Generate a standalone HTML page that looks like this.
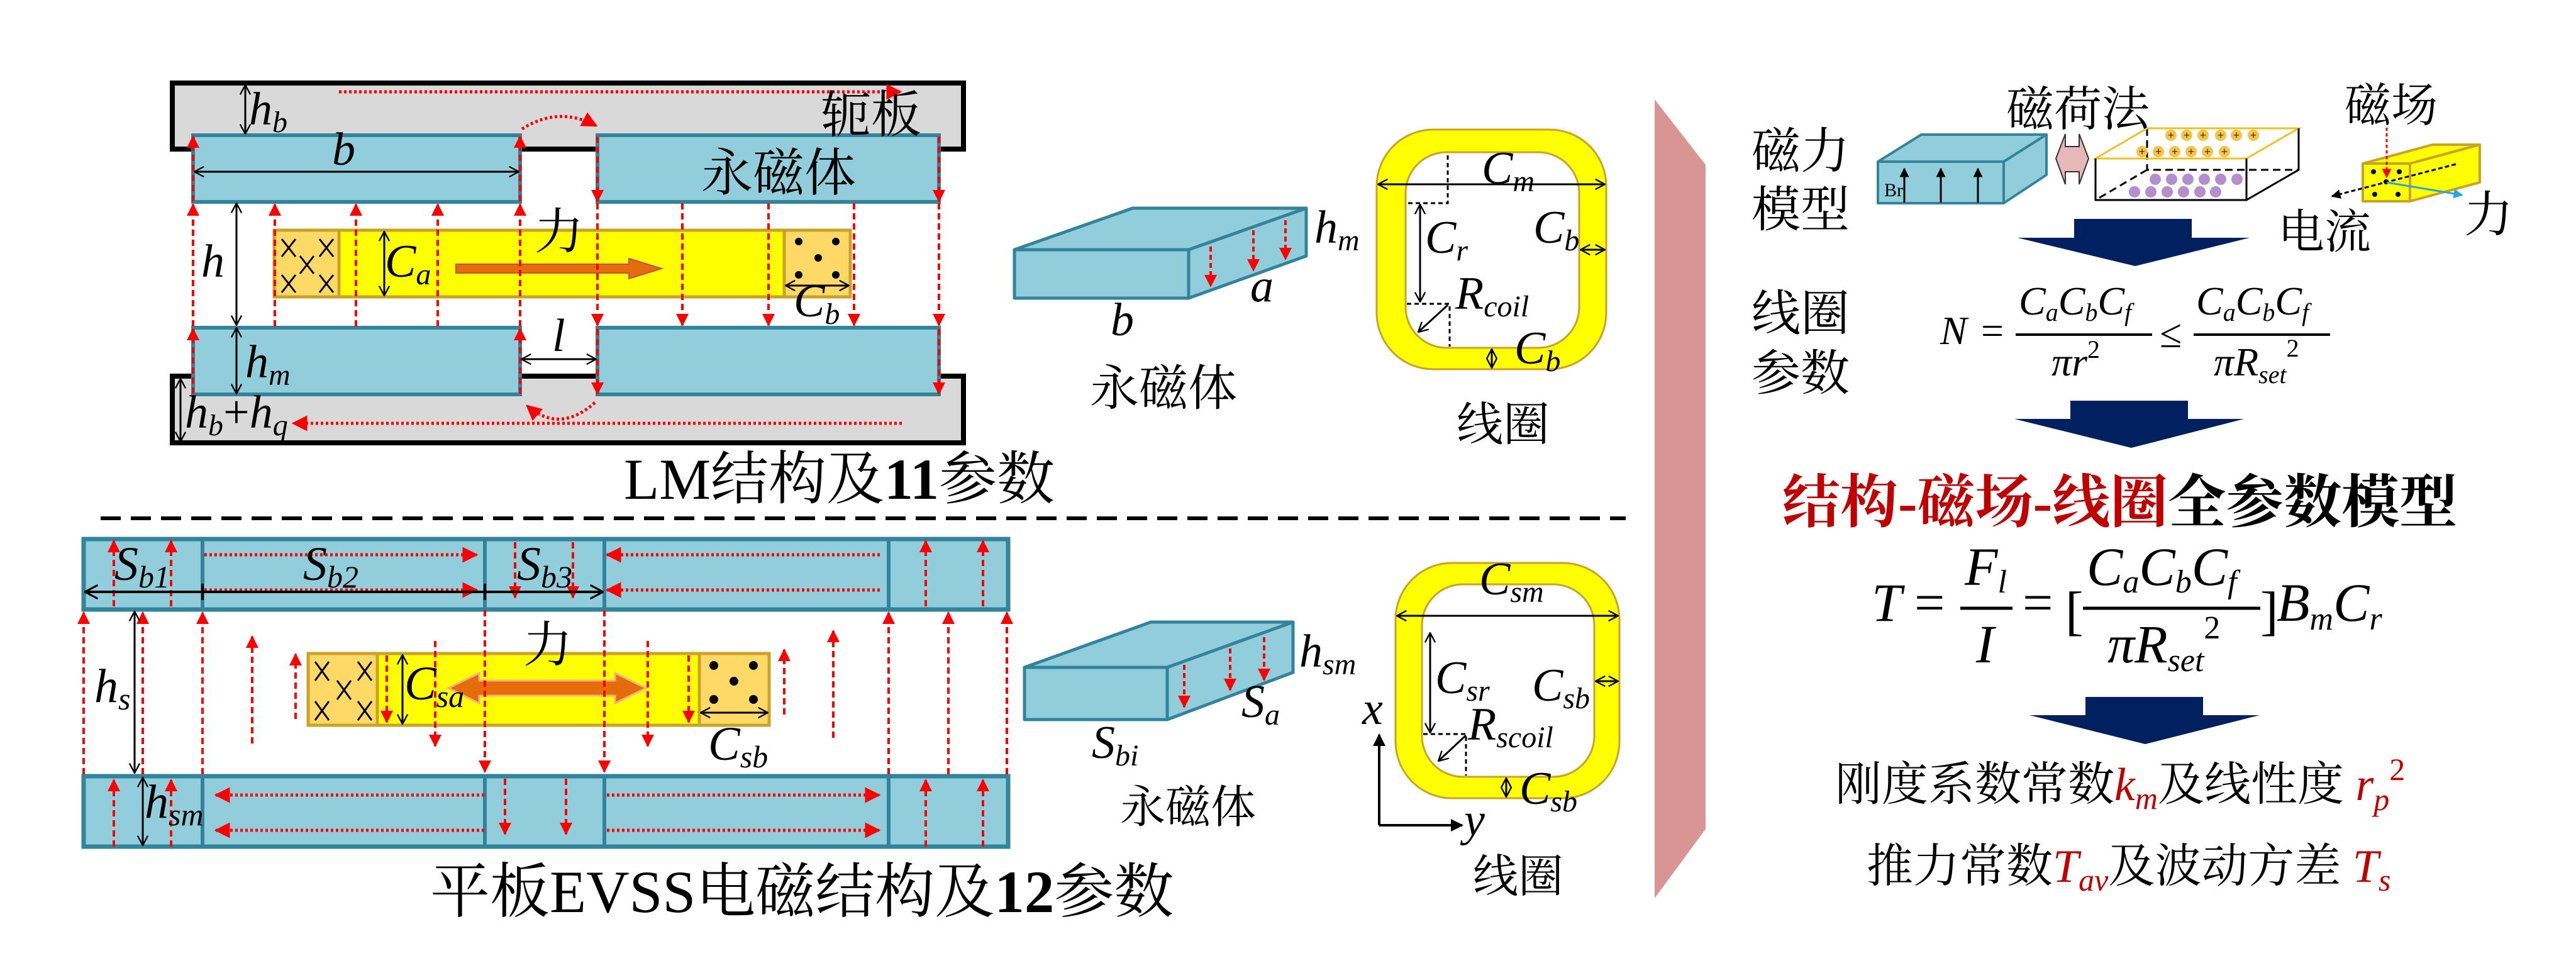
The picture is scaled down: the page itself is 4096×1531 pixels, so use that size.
<!DOCTYPE html>
<html><head><meta charset="utf-8"><style>
html,body{margin:0;padding:0;background:#fff;}
svg{display:block;}
text{font-family:"Liberation Serif","Noto Serif CJK SC",serif;}
.m{font-style:italic;}
</style></head><body>
<svg width="4096" height="1531" viewBox="0 0 4096 1531" xmlns="http://www.w3.org/2000/svg">
<defs>
<marker id="ra" viewBox="0 0 10 10" refX="9" refY="5" markerWidth="5" markerHeight="5" orient="auto-start-reverse"><path d="M0,0L10,5L0,10z" fill="#ff0000"/></marker>
<marker id="ba" viewBox="0 0 10 10" refX="9.5" refY="5" markerWidth="6" markerHeight="6" orient="auto-start-reverse"><path d="M1,0.5L9.5,5L1,9.5" fill="none" stroke="#000" stroke-width="1.3"/></marker>
<marker id="bs" viewBox="0 0 10 10" refX="9" refY="5" markerWidth="5" markerHeight="5" orient="auto-start-reverse"><path d="M0,0L10,5L0,10z" fill="#000"/></marker>
<marker id="cy" viewBox="0 0 10 10" refX="9" refY="5" markerWidth="5" markerHeight="5" orient="auto"><path d="M0,0L10,5L0,10z" fill="#1ea7e1"/></marker>
</defs>

<g stroke-linejoin="miter">
<rect x="274" y="132" width="1258" height="105" fill="#d9d9d9" stroke="#000" stroke-width="8"/>
<rect x="274" y="598" width="1258" height="106" fill="#d9d9d9" stroke="#000" stroke-width="8"/>
<g fill="#92cddc" stroke="#31849b" stroke-width="6">
<rect x="307" y="215" width="520" height="106"/>
<rect x="950" y="215" width="543" height="106"/>
<rect x="307" y="521" width="520" height="106"/>
<rect x="950" y="521" width="543" height="106"/>
</g>
<rect x="436" y="366" width="916" height="106" fill="#ffff00" stroke="#c9a227" stroke-width="5"/>
<rect x="436" y="366" width="103" height="106" fill="#ffd966" stroke="#c9a227" stroke-width="5"/>
<rect x="1247" y="366" width="105" height="106" fill="#ffd966" stroke="#c9a227" stroke-width="5"/>
<g stroke="#000" stroke-width="3"><path d="M448 380l22 28M470 380l-22 28M508 380l22 28M530 380l-22 28M477 407l22 28M499 407l-22 28M448 437l22 28M470 437l-22 28M508 437l22 28M530 437l-22 28"/></g>
<g fill="#000"><circle cx="1270" cy="384" r="6"/><circle cx="1329" cy="384" r="6"/><circle cx="1301" cy="410" r="6"/><circle cx="1270" cy="437" r="6"/><circle cx="1329" cy="437" r="6"/></g>
<polygon points="725,420 1000,420 1000,411 1052,427 1000,443 1000,434 725,434" fill="#e46c0a" stroke="#c0504d" stroke-width="2"/>
</g>
<g stroke="#ff0000" stroke-width="4" stroke-dasharray="10 6" fill="none" marker-end="url(#ra)">
<path d="M307 626V523"/><path d="M307 519V325"/><path d="M307 320V217"/>
<path d="M827 626V523"/><path d="M827 519V325"/><path d="M827 320V217"/>
<path d="M437 519V325"/><path d="M566 519V325"/><path d="M696 519V325"/>
<path d="M950 217V320"/><path d="M950 323V517"/><path d="M950 523V626"/>
<path d="M1493 217V320"/><path d="M1493 323V517"/><path d="M1493 523V626"/>
<path d="M1085 323V517"/><path d="M1222 323V517"/><path d="M1358 323V517"/>
</g>
<g stroke="#ff0000" stroke-width="5" stroke-dasharray="4 4" marker-end="url(#ra)">
<path fill="none" d="M539 146H1432"/><path fill="none" d="M1434 673H466"/>
<path fill="none" d="M830 205 Q888 168 948 200"/><path fill="none" d="M946 640 Q890 690 838 645"/>
</g>
<g stroke="#000" stroke-width="3" fill="none" marker-start="url(#ba)" marker-end="url(#ba)">
<path d="M390 135V213"/><path d="M309 273H825"/><path d="M376 323V517"/><path d="M376 521V626"/>
<path d="M611 368V470"/><path d="M1249 454H1350"/><path d="M829 571H948"/><path d="M287 602V702"/>
</g>
<g font-size="74" class="m">
<text x="396" y="198">h<tspan font-size="48" dy="12">b</tspan></text>
<text x="528" y="262">b</text>
<text x="320" y="440">h</text>
<text x="612" y="440">C<tspan font-size="48" dy="12">a</tspan></text>
<text x="1262" y="503">C<tspan font-size="48" dy="12">b</tspan></text>
<text x="878" y="558">l</text>
<text x="390" y="600">h<tspan font-size="48" dy="12">m</tspan></text>
<text x="294" y="680">h<tspan font-size="48" dy="12">b</tspan><tspan dy="-12" font-style="normal">+</tspan>h<tspan font-size="48" dy="12">q</tspan></text>
</g>
<text x="1305" y="210" font-size="80">轭板</text>
<text x="1115" y="303" font-size="82">永磁体</text>
<text x="850" y="395" font-size="78">力</text>
<text x="992" y="793" font-size="92">LM结构及<tspan font-weight="bold">11</tspan>参数</text>

<line x1="160" y1="824" x2="2585" y2="824" stroke="#000" stroke-width="6" stroke-dasharray="32 16"/>

<g fill="#92cddc" stroke="#31849b" stroke-width="7">
<rect x="133" y="857" width="1470" height="112"/>
<rect x="133" y="1234" width="1470" height="112"/>
</g>
<g stroke="#31849b" stroke-width="6">
<path d="M322 857V969M771 857V969M961 857V969M1413 857V969"/>
<path d="M322 1234V1346M771 1234V1346M961 1234V1346M1413 1234V1346"/>
</g>
<rect x="490" y="1039" width="733" height="114" fill="#ffff00" stroke="#c9a227" stroke-width="5"/>
<rect x="490" y="1039" width="110" height="114" fill="#ffd966" stroke="#c9a227" stroke-width="5"/>
<rect x="1112" y="1039" width="111" height="114" fill="#ffd966" stroke="#c9a227" stroke-width="5"/>
<g stroke="#000" stroke-width="3"><path d="M501 1052l22 30M523 1052l-22 30M569 1052l22 30M591 1052l-22 30M536 1082l22 30M558 1082l-22 30M501 1115l22 30M523 1115l-22 30M569 1115l22 30M591 1115l-22 30"/></g>
<g fill="#000"><circle cx="1135" cy="1058" r="7"/><circle cx="1198" cy="1058" r="7"/><circle cx="1167" cy="1083" r="7"/><circle cx="1135" cy="1112" r="7"/><circle cx="1198" cy="1112" r="7"/></g>
<polygon points="713,1094 762,1070 762,1082 978,1082 978,1070 1027,1094 978,1118 978,1106 762,1106 762,1118" fill="#e46c0a" stroke="#f4b183" stroke-width="3"/>
<g stroke="#ff0000" stroke-width="4" stroke-dasharray="10 6" fill="none" marker-end="url(#ra)">
<path d="M133 1231V974"/><path d="M227 1231V974"/><path d="M322 1231V974"/>
<path d="M1413 1231V974"/><path d="M1508 1231V974"/><path d="M1601 1231V974"/>
<path d="M771 970V1227"/><path d="M961 970V1227"/>
<path d="M181 964V860"/><path d="M272 964V860"/><path d="M1472 964V860"/><path d="M1563 964V860"/>
<path d="M819 862V950"/><path d="M911 862V950"/>
<path d="M181 1346V1240"/><path d="M272 1346V1240"/><path d="M1472 1346V1240"/><path d="M1563 1346V1240"/>
<path d="M803 1238V1326"/><path d="M900 1238V1326"/>
<path d="M401 1182V1012"/><path d="M470 1143V1040"/><path d="M1247 1136V1033"/><path d="M1325 1173V1003"/>
<path d="M692 1019V1186"/><path d="M1030 1019V1186"/><path d="M615 1042V1148"/><path d="M1095 1042V1148"/>
</g>
<g stroke="#ff0000" stroke-width="5" stroke-dasharray="4 4" fill="none" marker-end="url(#ra)">
<path d="M325 882H758"/><path d="M325 938H758"/>
<path d="M1399 882H965"/><path d="M1399 938H965"/>
<path d="M770 1264H343"/><path d="M770 1320H343"/>
<path d="M965 1264H1398"/><path d="M965 1320H1398"/>
</g>
<g stroke="#000" stroke-width="4" fill="none">
<path d="M135 941H959" marker-start="url(#ba)" marker-end="url(#ba)"/>
<path d="M322 928V954M771 928V954"/>
</g>
<g stroke="#000" stroke-width="3" fill="none" marker-start="url(#ba)" marker-end="url(#ba)">
<path d="M214 972V1229"/><path d="M227 1236V1344"/><path d="M640 1041V1151"/><path d="M1114 1133H1221"/>
</g>
<g font-size="76" class="m">
<text x="182" y="922">S<tspan font-size="50" dy="12">b1</tspan></text>
<text x="482" y="922">S<tspan font-size="50" dy="12">b2</tspan></text>
<text x="822" y="922">S<tspan font-size="50" dy="12">b3</tspan></text>
<text x="150" y="1116">h<tspan font-size="50" dy="12">s</tspan></text>
<text x="230" y="1300">h<tspan font-size="50" dy="12">sm</tspan></text>
<text x="643" y="1112">C<tspan font-size="50" dy="12">sa</tspan></text>
<text x="1126" y="1208">C<tspan font-size="50" dy="12">sb</tspan></text>
</g>
<text x="832" y="1052" font-size="78">力</text>
<text x="684" y="1450" font-size="95">平板EVSS电磁结构及<tspan font-weight="bold">12</tspan>参数</text>

<g fill="#92cddc" stroke="#31849b" stroke-width="5" stroke-linejoin="round">
<polygon points="1613,397 1801,331 2077,331 1890,397"/>
<polygon points="1890,397 2077,331 2077,407 1890,474"/>
<rect x="1613" y="397" width="277" height="77"/>
<polygon points="1629,1061 1830,989 2056,989 1856,1061"/>
<polygon points="1856,1061 2056,989 2056,1069 1856,1144"/>
<rect x="1629" y="1061" width="227" height="83"/>
</g>
<g stroke="#ff0000" stroke-width="4" stroke-dasharray="8 5" fill="none" marker-end="url(#ra)">
<path d="M1925 392V455"/><path d="M1993 366V430"/><path d="M2044 350V412"/>
<path d="M1883 1057V1124"/><path d="M1956 1031V1097"/><path d="M2010 1013V1081"/>
</g>
<g font-size="74" class="m">
<text x="2090" y="386">h<tspan font-size="48" dy="12">m</tspan></text>
<text x="1988" y="479">a</text>
<text x="1766" y="533">b</text>
<text x="2066" y="1060">h<tspan font-size="48" dy="12">sm</tspan></text>
<text x="1974" y="1140">S<tspan font-size="48" dy="12">a</tspan></text>
<text x="1736" y="1205">S<tspan font-size="48" dy="12">bi</tspan></text>
</g>
<text x="1733" y="644" font-size="78">永磁体</text>
<text x="1781" y="1308" font-size="72">永磁体</text>

<path fill-rule="evenodd" fill="#ffff00" stroke="#c9a227" stroke-width="3" d="M2279,206H2464A90,90 0 0 1 2554,296V497A90,90 0 0 1 2464,587H2279A90,90 0 0 1 2189,497V296A90,90 0 0 1 2279,206Z M2300,242H2446A65,65 0 0 1 2511,307V488A65,65 0 0 1 2446,553H2300A65,65 0 0 1 2235,488V307A65,65 0 0 1 2300,242Z"/>
<path fill-rule="evenodd" fill="#ffff00" stroke="#c9a227" stroke-width="3" d="M2309,895H2485A90,90 0 0 1 2575,985V1179A90,90 0 0 1 2485,1269H2309A90,90 0 0 1 2219,1179V985A90,90 0 0 1 2309,895Z M2326,929H2470A65,65 0 0 1 2535,994V1170A65,65 0 0 1 2470,1235H2326A65,65 0 0 1 2261,1170V994A65,65 0 0 1 2326,929Z"/>
<g stroke="#000" stroke-width="3" stroke-dasharray="7 5" fill="none">
<path d="M2302 247V323H2237"/><path d="M2237 483H2305V551"/>
<path d="M2263 1167H2331V1233"/>
</g>
<g stroke="#000" stroke-width="3" fill="none" marker-start="url(#ba)" marker-end="url(#ba)">
<path d="M2191 293H2552"/><path d="M2258 325V480"/><path d="M2513 397H2552"/><path d="M2372 555V585"/>
<path d="M2221 979H2573"/><path d="M2274 1006V1165"/><path d="M2537 1083H2573"/><path d="M2395 1237V1267"/>
</g>
<g stroke="#000" stroke-width="3" fill="none" marker-end="url(#ba)">
<path d="M2302 485L2255 528"/><path d="M2331 1169L2287 1210"/>
</g>
<g stroke="#000" stroke-width="4" fill="none" marker-end="url(#bs)">
<path d="M2193 1312V1168"/><path d="M2193 1312H2325"/>
</g>
<g font-size="74" class="m">
<text x="2356" y="292">C<tspan font-size="48" dy="12">m</tspan></text>
<text x="2266" y="402">C<tspan font-size="48" dy="12">r</tspan></text>
<text x="2438" y="386">C<tspan font-size="48" dy="12">b</tspan></text>
<text x="2314" y="491">R<tspan font-size="48" dy="12">coil</tspan></text>
<text x="2408" y="578">C<tspan font-size="48" dy="12">b</tspan></text>
<text x="2352" y="945">C<tspan font-size="48" dy="12">sm</tspan></text>
<text x="2282" y="1102">C<tspan font-size="48" dy="12">sr</tspan></text>
<text x="2436" y="1114">C<tspan font-size="48" dy="12">sb</tspan></text>
<text x="2334" y="1176">R<tspan font-size="48" dy="12">scoil</tspan></text>
<text x="2416" y="1278">C<tspan font-size="48" dy="12">sb</tspan></text>
<text x="2166" y="1151">x</text>
<text x="2328" y="1328">y</text>
</g>
<text x="2316" y="700" font-size="74">线圈</text>
<text x="2342" y="1418" font-size="72">线圈</text>

<polygon points="2631,158 2712,262 2712,1318 2631,1428" fill="#d99594"/>

<text x="2785" y="267" font-size="78">磁力</text>
<text x="2785" y="360" font-size="78">模型</text>
<text x="3190" y="200" font-size="76">磁荷法</text>
<text x="3728" y="193" font-size="74">磁场</text>
<text x="3622" y="394" font-size="74">电流</text>
<text x="3918" y="368" font-size="78">力</text>

<g fill="#92cddc" stroke="#31849b" stroke-width="4" stroke-linejoin="round">
<polygon points="2986,257 3055,214 3254,214 3186,257"/>
<polygon points="3186,257 3254,214 3254,278 3186,323"/>
<rect x="2986" y="257" width="200" height="66"/>
</g>
<g stroke="#000" stroke-width="3" marker-end="url(#bs)"><path d="M3028 322V268"/><path d="M3086 322V268"/><path d="M3145 322V268"/></g>
<text x="2996" y="312" font-size="30">Br</text>
<polygon points="3269,252 3284,213 3284,233 3306,233 3306,213 3321,252 3306,293 3306,273 3284,273 3284,293" fill="#e6b8b7" stroke="#333" stroke-width="2"/>

<g fill="none" stroke-width="3">
<path d="M3414 204V270H3655M3414 270L3332 318" stroke="#000" stroke-dasharray="12 7"/>
<polygon points="3332,252 3414,204 3655,204 3572,252" stroke="#f0c020"/>
<path d="M3332 252V318H3572V252M3572 318L3655 270V204" stroke="#000"/>
</g>
<g fill="#f6c342"><circle cx="3452" cy="215" r="9"/><circle cx="3477" cy="215" r="9"/><circle cx="3503" cy="215" r="9"/><circle cx="3531" cy="215" r="9"/><circle cx="3556" cy="215" r="9"/><circle cx="3583" cy="215" r="9"/>
<circle cx="3406" cy="241" r="9"/><circle cx="3432" cy="241" r="9"/><circle cx="3458" cy="241" r="9"/><circle cx="3484" cy="241" r="9"/><circle cx="3510" cy="241" r="9"/><circle cx="3537" cy="241" r="9"/></g>
<g fill="#b48fd0"><circle cx="3427" cy="285" r="9"/><circle cx="3453" cy="285" r="9"/><circle cx="3479" cy="285" r="9"/><circle cx="3505" cy="285" r="9"/><circle cx="3531" cy="285" r="9"/><circle cx="3557" cy="285" r="9"/>
<circle cx="3394" cy="305" r="9"/><circle cx="3420" cy="305" r="9"/><circle cx="3446" cy="305" r="9"/><circle cx="3472" cy="305" r="9"/><circle cx="3498" cy="305" r="9"/><circle cx="3523" cy="305" r="9"/></g>
<g font-size="18" font-weight="bold" text-anchor="middle" fill="#333">
<text x="3452" y="221">+</text><text x="3477" y="221">+</text><text x="3503" y="221">+</text><text x="3531" y="221">+</text><text x="3556" y="221">+</text><text x="3583" y="221">+</text>
<text x="3406" y="247">+</text><text x="3432" y="247">+</text><text x="3458" y="247">+</text><text x="3484" y="247">+</text><text x="3510" y="247">+</text><text x="3537" y="247">+</text>
</g>

<g fill="#ffff00" stroke="#c9a227" stroke-width="4" stroke-linejoin="round">
<polygon points="3757,260 3868,230 3943,230 3832,260"/>
<polygon points="3832,260 3943,230 3943,290 3832,320"/>
<rect x="3757" y="260" width="75" height="60"/>
</g>
<g fill="#000"><circle cx="3774" cy="273" r="4"/><circle cx="3815" cy="273" r="4"/><circle cx="3776" cy="309" r="4"/><circle cx="3813" cy="309" r="4"/><circle cx="3794" cy="289" r="4"/></g>
<path d="M3795 203V282" stroke="#ff0000" stroke-width="3" stroke-dasharray="5 4" marker-end="url(#ra)"/>
<path d="M3905 261L3708 312" stroke="#000" stroke-width="3" stroke-dasharray="7 4" marker-end="url(#bs)"/>
<path d="M3795 290L3915 310" stroke="#1ea7e1" stroke-width="3" marker-end="url(#cy)"/>

<g fill="#002060">
<polygon points="3298,348 3485,348 3485,378 3577,378 3395,423 3208,378 3298,378"/>
<polygon points="3292,637 3479,637 3479,666 3568,666 3389,712 3203,666 3292,666"/>
<polygon points="3316,1108 3503,1108 3503,1137 3593,1137 3411,1183 3227,1137 3316,1137"/>
</g>

<text x="2785" y="525" font-size="78">线圈</text>
<text x="2785" y="620" font-size="78">参数</text>

<g font-size="64" class="m">
<text x="3085" y="547">N</text>
<text x="3150" y="547" font-style="normal">=</text>
<text x="3210" y="500">C<tspan font-size="40" dy="10">a</tspan><tspan dy="-10">C</tspan><tspan font-size="40" dy="10">b</tspan><tspan dy="-10">C</tspan><tspan font-size="40" dy="10">f</tspan></text>
<text x="3262" y="597">πr<tspan font-size="40" dy="-28" font-style="normal">2</tspan></text>
<text x="3434" y="552" font-style="normal">≤</text>
<text x="3492" y="500">C<tspan font-size="40" dy="10">a</tspan><tspan dy="-10">C</tspan><tspan font-size="40" dy="10">b</tspan><tspan dy="-10">C</tspan><tspan font-size="40" dy="10">f</tspan></text>
<text x="3520" y="597">πR<tspan font-size="40" dy="12">set</tspan><tspan font-size="40" dy="-42" font-style="normal">2</tspan></text>
</g>
<path d="M3205 532H3422M3488 532H3705" stroke="#000" stroke-width="4"/>

<text x="2834" y="830" font-size="92" font-weight="bold"><tspan fill="#c00000">结构-磁场-线圈</tspan>全参数模型</text>

<g font-size="86" class="m">
<text x="2976" y="987">T</text>
<text x="3044" y="987" font-style="normal">=</text>
<text x="3124" y="930">F<tspan font-size="52" dy="12">l</tspan></text>
<text x="3142" y="1053">I</text>
<text x="3216" y="987" font-style="normal">=</text>
<text x="3284" y="1000" font-style="normal">[</text>
<text x="3318" y="930">C<tspan font-size="52" dy="12">a</tspan><tspan dy="-12">C</tspan><tspan font-size="52" dy="12">b</tspan><tspan dy="-12">C</tspan><tspan font-size="52" dy="12">f</tspan></text>
<text x="3351" y="1053">πR<tspan font-size="52" dy="14">set</tspan><tspan font-size="52" dy="-52" font-style="normal">2</tspan></text>
<text x="3594" y="1000" font-style="normal">]</text>
<text x="3620" y="987">B<tspan font-size="52" dy="14">m</tspan><tspan dy="-14">C</tspan><tspan font-size="52" dy="14">r</tspan></text>
</g>
<path d="M3117 967H3200M3312 967H3594" stroke="#000" stroke-width="5"/>

<text x="2918" y="1272" font-size="74">刚度系数常数<tspan class="m" fill="#c00000">k</tspan><tspan class="m" fill="#c00000" font-size="50" dy="14">m</tspan><tspan dy="-14">及线性度 </tspan><tspan class="m" fill="#c00000">r</tspan><tspan class="m" fill="#c00000" font-size="50" dy="16">p</tspan><tspan fill="#c00000" font-size="50" dy="-48">2</tspan></text>
<text x="2968" y="1402" font-size="74">推力常数<tspan class="m" fill="#c00000">T</tspan><tspan class="m" fill="#c00000" font-size="50" dy="14">av</tspan><tspan dy="-14">及波动方差 </tspan><tspan class="m" fill="#c00000">T</tspan><tspan class="m" fill="#c00000" font-size="50" dy="14">s</tspan></text>
</svg>
</body></html>
